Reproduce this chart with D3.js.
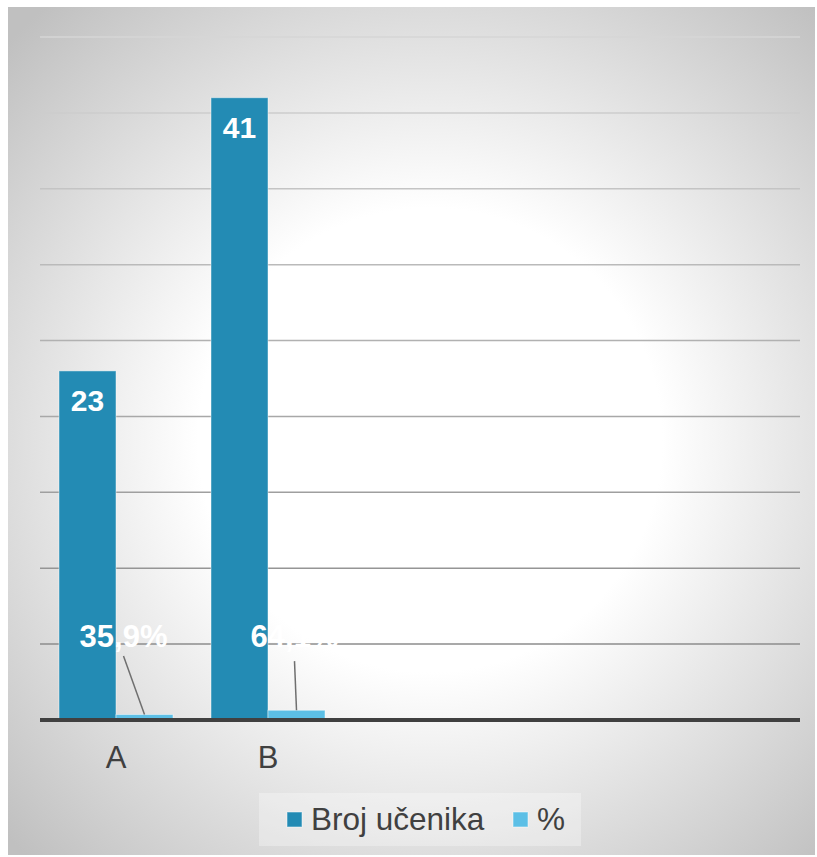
<!DOCTYPE html>
<html>
<head>
<meta charset="utf-8">
<script src="https://cdn.jsdelivr.net/npm/d3@7"></script>
<style>
  html, body { margin: 0; padding: 0; background: #fff; }
  svg { display: block; font-family: "Liberation Sans", Arial, sans-serif; }
</style>
</head>
<body>
<svg id="chart" width="817" height="857"></svg>
<script>
// chart data
var categories = ["A", "B", "", "", ""];
var seriesNames = ["Broj učenika", "%"];
var brojUcenika = [23, 41];
var postotak = [0.359, 0.641];
var postotakLabels = ["35,9%", "64,1%"];
var yTicks = [0, 5, 10, 15, 20, 25, 30, 35, 40, 45];

var colors = ["#238bb4", "#5cbfe6"];

var svg = d3.select("#chart");
var W = 817, H = 857;
var plot = { left: 40, right: 800, top: 37, bottom: 720 };

// background gradient (white centre, grey edges)
var defs = svg.append("defs");
var grad = defs.append("radialGradient")
  .attr("id", "bg")
  .attr("gradientUnits", "userSpaceOnUse")
  .attr("cx", 430).attr("cy", 440).attr("r", 580);
grad.append("stop").attr("offset", 0).attr("stop-color", "#ffffff");
grad.append("stop").attr("offset", 0.4).attr("stop-color", "#ffffff");
grad.append("stop").attr("offset", 1).attr("stop-color", "#c0c0c0");

svg.append("rect")
  .attr("x", 8).attr("y", 7)
  .attr("width", W - 10).attr("height", H - 9)
  .attr("fill", "url(#bg)");

// scales
var x0 = d3.scaleBand()
  .domain(d3.range(categories.length))
  .range([plot.left, plot.right]);

var groupW = x0.bandwidth() * 0.75;
var x1 = d3.scaleBand()
  .domain(d3.range(seriesNames.length))
  .range([0, groupW]);
var groupOff = (x0.bandwidth() - groupW) / 2;

var y = d3.scaleLinear()
  .domain([0, 45])
  .range([plot.bottom, plot.top]);

// gridlines, darker towards the bottom
var gridColor = d3.scaleLinear()
  .domain([45, 5])
  .range(["#d6d6d6", "#8c8c8c"]);

svg.append("g").selectAll("line")
  .data(yTicks.filter(function(t) { return t > 0; }))
  .enter().append("line")
  .attr("x1", plot.left).attr("x2", plot.right)
  .attr("y1", function(t) { return y(t); })
  .attr("y2", function(t) { return y(t); })
  .attr("stroke", function(t) { return gridColor(t); })
  .attr("stroke-width", 1.5);

// bars
var rows = [brojUcenika, postotak];
rows.forEach(function(vals, s) {
  svg.append("g").selectAll("rect")
    .data(vals)
    .enter().append("rect")
    .attr("x", function(d, i) { return x0(i) + groupOff + x1(s); })
    .attr("y", function(d) { return y(d); })
    .attr("width", x1.bandwidth())
    .attr("height", function(d) { return y(0) - y(d); })
    .attr("fill", colors[s])
    .attr("stroke", "rgba(255,255,255,0.45)")
    .attr("stroke-width", 1);
});

// category axis
var xAxis = d3.axisBottom(x0)
  .tickSize(0)
  .tickPadding(26)
  .tickFormat(function(i) { return categories[i]; });

var ax = svg.append("g")
  .attr("transform", "translate(0," + y(0) + ")")
  .call(xAxis);
ax.select(".domain").remove();
ax.selectAll("text")
  .attr("font-size", 31)
  .attr("fill", "#404040")
  .attr("font-family", "Liberation Sans, Arial, sans-serif");

svg.append("line")
  .attr("x1", plot.left).attr("x2", plot.right)
  .attr("y1", y(0)).attr("y2", y(0))
  .attr("stroke", "#404040")
  .attr("stroke-width", 4);

// value labels inside bar ends
svg.append("g").selectAll("text")
  .data(brojUcenika)
  .enter().append("text")
  .attr("x", function(d, i) { return x0(i) + groupOff + x1(0) + x1.bandwidth() / 2; })
  .attr("y", function(d) { return y(d) + 40; })
  .attr("text-anchor", "middle")
  .attr("font-size", 30)
  .attr("font-weight", "bold")
  .attr("fill", "#ffffff")
  .text(function(d) { return d; });

// percentage labels, pulled up with leader lines
var labelShift = [-21, -2];
var labelBase = y(5) + 3;
var pctCx = function(i) { return x0(i) + groupOff + x1(1) + x1.bandwidth() / 2; };

svg.append("g").selectAll("line")
  .data(postotak)
  .enter().append("line")
  .attr("x1", function(d, i) { return pctCx(i) + labelShift[i]; })
  .attr("y1", function(d, i) { return labelBase + (i === 0 ? 9 : 14); })
  .attr("x2", function(d, i) { return pctCx(i); })
  .attr("y2", function(d) { return y(d); })
  .attr("stroke", "#6f6f6f")
  .attr("stroke-width", 1.5);

svg.append("g").selectAll("text")
  .data(postotak)
  .enter().append("text")
  .attr("x", function(d, i) { return pctCx(i) + labelShift[i]; })
  .attr("y", labelBase)
  .attr("text-anchor", "middle")
  .attr("font-size", 31)
  .attr("font-weight", "bold")
  .attr("fill", "#ffffff")
  .text(function(d, i) { return postotakLabels[i]; });

// legend
var lg = svg.append("g");
lg.append("rect")
  .attr("x", 259).attr("y", 793)
  .attr("width", 322).attr("height", 53)
  .attr("fill", "rgba(255,255,255,0.3)");

var legendX = [287, 513];
seriesNames.forEach(function(name, s) {
  lg.append("rect")
    .attr("x", legendX[s]).attr("y", 812)
    .attr("width", 15).attr("height", 15)
    .attr("fill", colors[s])
    .attr("stroke", "rgba(255,255,255,0.5)");
  lg.append("text")
    .attr("x", legendX[s] + 24).attr("y", 830)
    .attr("font-size", 31.5)
    .attr("fill", "#404040")
    .text(name);
});
</script>
</body>
</html>
